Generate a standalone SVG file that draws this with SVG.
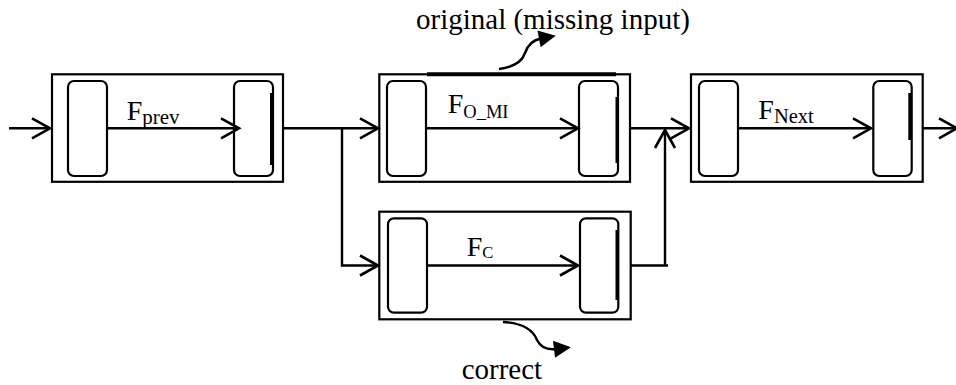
<svg xmlns="http://www.w3.org/2000/svg" width="956" height="385" viewBox="0 0 956 385">
  <style>
    .box { fill: #fff; stroke: #000; stroke-width: 2.2; }
    .cell { fill: #fff; stroke: #000; stroke-width: 2.2; }
    .bar { stroke: #000; stroke-width: 3; fill: none; }
    .wire { fill: none; stroke: #000; stroke-width: 2.4; }
    .flow { marker-end: url(#open); }
    .note { fill: none; stroke: #000; stroke-width: 2.4; marker-end: url(#solid); }
    text { font-family: "Liberation Serif", "Times New Roman", serif; fill: #000; }
    .lbl { font-size: 28px; }
    .cap { font-size: 29px; }
  </style>
  <defs>
    <marker id="open" markerUnits="userSpaceOnUse" viewBox="-20 -12 22 24" markerWidth="22" markerHeight="24" refX="0" refY="0" orient="auto" overflow="visible">
      <path d="M-18,-10 L0,0 L-18,10" fill="none" stroke="#000" stroke-width="2.6" stroke-linejoin="miter"/>
    </marker>
    <marker id="solid" markerUnits="userSpaceOnUse" viewBox="-4 -9 20 18" markerWidth="20" markerHeight="18" refX="0" refY="0" orient="auto" overflow="visible">
      <path d="M-2,-8.5 L15,0 L-2,8.5 Z" fill="#000"/>
    </marker>
  </defs>

  <!-- stage before -->
  <g id="f-prev">
    <rect class="box" x="52" y="74.3" width="231" height="107.5"/>
    <rect class="cell" x="68" y="81" width="39" height="95" rx="6"/>
    <rect class="cell" x="234" y="81" width="39" height="95" rx="6"/>
    <line class="bar" x1="271.5" y1="93" x2="271.5" y2="165"/>
    <text class="lbl" x="126.7" y="120">F<tspan font-size="21" dy="3.5">prev</tspan></text>
  </g>

  <!-- original stage with missing input -->
  <g id="f-o-mi">
    <rect class="box" x="379.3" y="74.3" width="250.7" height="107.5"/>
    <line x1="427" y1="74.2" x2="616" y2="74.2" stroke="#000" stroke-width="4"/>
    <rect class="cell" x="387" y="81" width="39" height="95" rx="6"/>
    <rect class="cell" x="579" y="81" width="39" height="95" rx="6"/>
    <line class="bar" x1="617" y1="97" x2="617" y2="163"/>
    <text class="lbl" x="447.7" y="113.3">F<tspan font-size="18.5" dy="5">O_MI</tspan></text>
  </g>

  <!-- corrected stage -->
  <g id="f-c">
    <rect class="box" x="379.3" y="211.7" width="251.4" height="107.6"/>
    <rect class="cell" x="388" y="218.3" width="39" height="94.4" rx="6"/>
    <rect class="cell" x="580" y="218.3" width="38.3" height="94.4" rx="6"/>
    <line class="bar" x1="617" y1="230" x2="617" y2="300"/>
    <text class="lbl" x="466.7" y="256">F<tspan font-size="16.5" dy="2">C</tspan></text>
  </g>

  <!-- stage after -->
  <g id="f-next">
    <rect class="box" x="691" y="74.3" width="231.7" height="107.5"/>
    <rect class="cell" x="699" y="81" width="39" height="95" rx="6"/>
    <rect class="cell" x="873.3" y="81" width="38.4" height="95" rx="6"/>
    <line class="bar" x1="909.8" y1="93" x2="909.8" y2="140"/>
    <text class="lbl" x="758.3" y="119.3">F<tspan font-size="20.5" dy="4">Next</tspan></text>
  </g>

  <!-- annotations -->
  <g id="note-original">
    <text class="cap" x="416" y="29">original (missing input)</text>
  </g>
  <g id="note-correct">
    <text class="cap" x="461.7" y="379">correct</text>
  </g>

  <!-- connectors, drawn over the boxes -->
  <g id="connectors">
    <path class="wire flow" d="M9,128.3 H50"/>
    <path class="wire flow" d="M107,128.3 H239"/>
    <path class="wire flow" d="M283,128.3 H378"/>
    <path class="wire flow" d="M342,128.3 V265.5 H378"/>
    <path class="wire flow" d="M426,128.3 H578"/>
    <path class="wire flow" d="M427,265.5 H578"/>
    <path class="wire flow" d="M631,128.3 H689"/>
    <path class="wire" d="M631,265.5 H668"/>
    <path class="wire flow" d="M665,265.5 V130"/>
    <path class="wire flow" d="M738,128.3 H871"/>
    <path class="wire flow" d="M923,128.3 H957"/>
    <path class="note" d="M499,69 C514,67 522,62 525,53 C528,44 533,40 541,38.5"/>
    <path class="note" d="M503,322 C522,323 533,330 537,340 C541,348 548,350 556,349"/>
  </g>
</svg>
